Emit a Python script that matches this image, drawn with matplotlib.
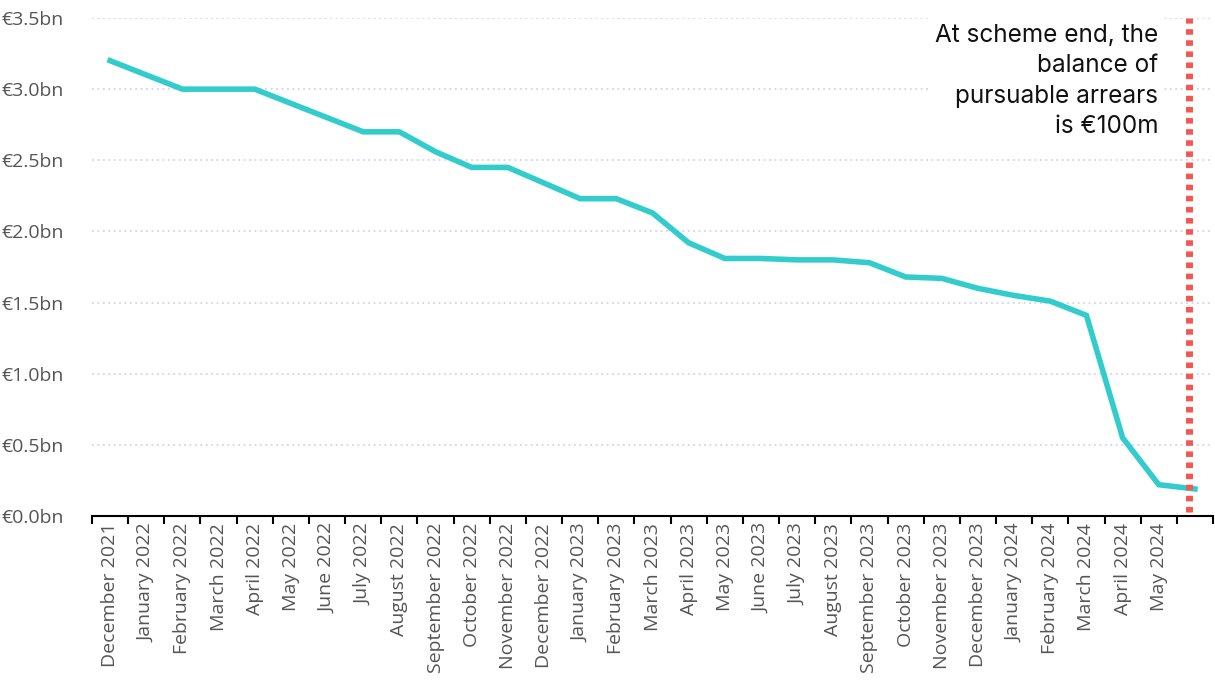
import matplotlib
matplotlib.use("Agg")
import matplotlib.pyplot as plt
import numpy as np

months = ["December 2021", "January 2022", "February 2022", "March 2022", "April 2022",
          "May 2022", "June 2022", "July 2022", "August 2022", "September 2022",
          "October 2022", "November 2022", "December 2022", "January 2023", "February 2023",
          "March 2023", "April 2023", "May 2023", "June 2023", "July 2023",
          "August 2023", "September 2023", "October 2023", "November 2023", "December 2023",
          "January 2024", "February 2024", "March 2024", "April 2024", "May 2024", ""]

# pursuable arrears balance, EUR bn
balance = [3.20, 3.10, 3.00, 3.00, 3.00, 2.90, 2.80, 2.70, 2.70, 2.56,
           2.45, 2.45, 2.34, 2.23, 2.23, 2.13, 1.92, 1.81, 1.81, 1.80,
           1.80, 1.78, 1.68, 1.67, 1.60, 1.55, 1.51, 1.41, 0.55, 0.22, 0.19]

yticks = [0.0, 0.5, 1.0, 1.5, 2.0, 2.5, 3.0, 3.5]
scheme_end = 29.85
note = "At scheme end, the\nbalance of\npursuable arrears\nis €100m"

fig = plt.figure(figsize=(12.15, 6.83), dpi=100)
ax = fig.add_axes([92 / 1215, 1 - 516 / 683, (1213 - 92) / 1215, (516 - 18) / 683])

x = np.arange(len(months))
ax.plot(x, balance, color="#33cccc", lw=4, solid_joinstyle="miter", zorder=3)

ax.set_ylim(0, 3.5)
ax.set_xlim(-0.5, len(months) - 0.5)

for v in yticks[1:]:
    ax.axhline(v, color="#d0d4f0", lw=1.3, ls=(0, (1, 2)), zorder=1)

ax.vlines(scheme_end, 0.03, 3.5, color="#f4574f", lw=5, linestyles=(0, (0.8, 0.8)), zorder=4)

ax.text(28.98, 3.46, note, ha="right", va="top", fontsize=17.5, family="Inter",
        color="#111111", linespacing=1.42, zorder=5,
        bbox=dict(facecolor="white", edgecolor="none", pad=4))

ax.set_yticks(yticks)
ax.set_yticklabels(["€%.1fbn" % v for v in yticks], fontsize=14, color="#555555",
                   family="Open Sans")
ax.tick_params(axis="y", length=0, pad=20)

ax.set_xticks(np.arange(len(months) + 1) - 0.5)
ax.set_xticklabels([])
ax.tick_params(axis="x", which="major", length=6, width=1.5, color="black")
ax.set_xticks(x, minor=True)
ax.set_xticklabels(months, minor=True, rotation=90, fontsize=14, color="#555555",
                   family="Open Sans")
ax.tick_params(axis="x", which="minor", length=0, pad=5)

for s in ["top", "right", "left"]:
    ax.spines[s].set_visible(False)
ax.spines["bottom"].set_linewidth(1.5)
ax.spines["bottom"].set_zorder(6)

fig.savefig("out.png", dpi=100)
